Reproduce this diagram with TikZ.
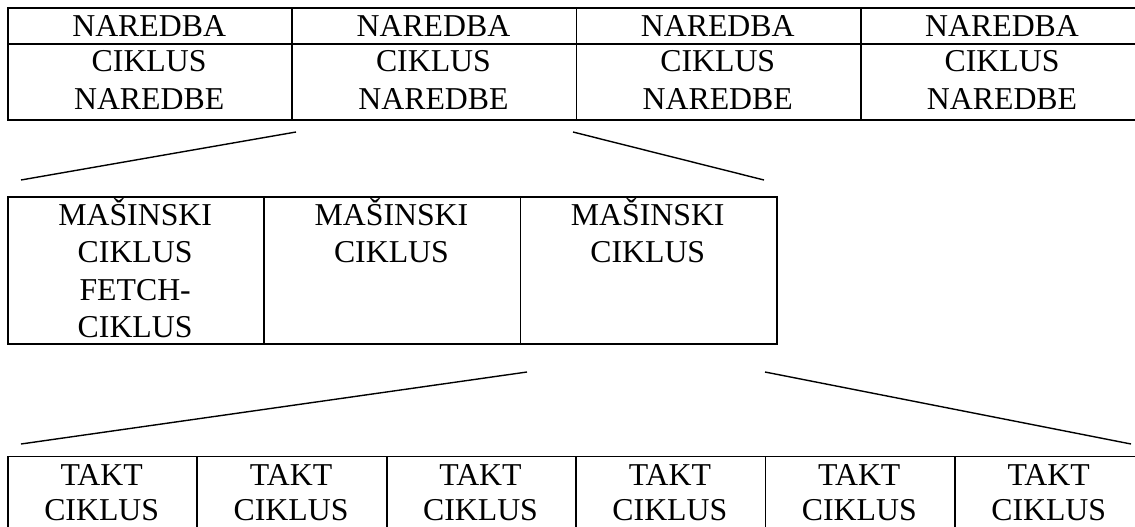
\documentclass[tikz,border=0pt]{standalone}
\usepackage{fontspec}
\setmainfont{Liberation Serif}
\begin{document}
\begin{tikzpicture}[x=1pt,y=-1pt,
  box/.style={draw, line width=1.8pt, inner sep=0pt, anchor=north west},
  lbl/.style={anchor=base, inner sep=0pt, font=\fontsize{31.8}{37}\selectfont},
  link/.style={line width=1.4pt}]
\useasboundingbox (0,0) rectangle (1135,527);
% top table
\foreach \i in {0,1,2,3}{
  \node[box, minimum width=284.3pt, minimum height=112pt] (n\i) at ({7+284.3*\i},7) {};
  \node[lbl] (n\i a) at ({7+284.3*\i+142.15},36.7) {NAREDBA};
  \node[lbl] (n\i b) at ({7+284.3*\i+142.15},72) {CIKLUS};
  \node[lbl] (n\i c) at ({7+284.3*\i+142.15},110) {NAREDBE};
}
\draw[line width=1.8pt] (n0.west |- 0,44) -- (n3.east |- 0,44);
% middle table
\foreach \i in {0,1,2}{
  \node[box, minimum width=256.3pt, minimum height=147pt] (m\i) at ({7+256.3*\i},196) {};
  \node[lbl] (m\i a) at ({7+256.3*\i+128.15},225) {MAŠINSKI};
  \node[lbl] (m\i b) at ({7+256.3*\i+128.15},262) {CIKLUS};
}
\node[lbl] (m0c) at (135.15,300) {FETCH-};
\node[lbl] (m0d) at (135.15,337) {CIKLUS};
% bottom table
\foreach \i in {0,...,5}{
  \node[box, minimum width=189.4pt, minimum height=110pt] (b\i) at ({7+189.4*\i},455.5) {};
  \node[lbl] (b\i a) at ({7+189.4*\i+94.7},485) {TAKT};
  \node[lbl] (b\i b) at ({7+189.4*\i+94.7},520.5) {CIKLUS};
}
% expansion lines
\coordinate (p1) at (296,132);
\coordinate (p2) at (21,180);
\coordinate (p3) at (573,132);
\coordinate (p4) at (764,180);
\coordinate (q1) at (527,372);
\coordinate (q2) at (21,444);
\coordinate (q3) at (765,372);
\coordinate (q4) at (1131,444);
\draw[link] (p1) -- (p2);
\draw[link] (p3) -- (p4);
\draw[link] (q1) -- (q2);
\draw[link] (q3) -- (q4);
\end{tikzpicture}
\end{document}
